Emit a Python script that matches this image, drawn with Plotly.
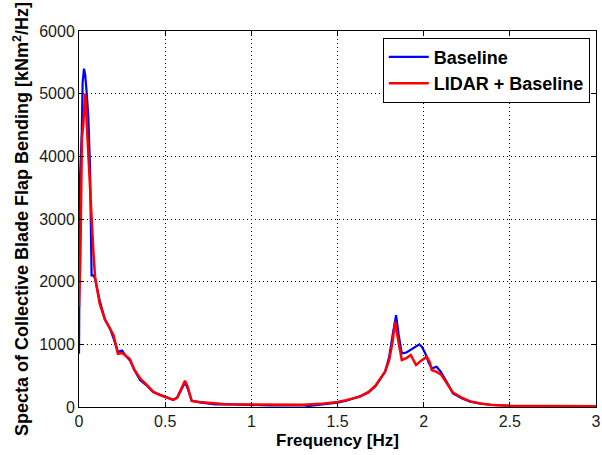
import plotly.graph_objects as go

# Baseline spectrum (frequency Hz, value kNm^2/Hz)
freq_base = [0.0, 0.006, 0.016, 0.021, 0.029, 0.036, 0.045, 0.054, 0.064, 0.068, 0.073, 0.083, 0.093,
             0.10, 0.12, 0.15, 0.18, 0.20, 0.226, 0.25, 0.27, 0.296, 0.32, 0.354, 0.39, 0.43, 0.47,
             0.50, 0.547, 0.57, 0.59, 0.615, 0.63, 0.654, 0.70, 0.74, 0.79, 0.85, 0.95, 1.0,
             1.1, 1.2, 1.3, 1.33, 1.4, 1.5, 1.55, 1.6, 1.63, 1.68, 1.72, 1.776, 1.80, 1.82, 1.84,
             1.855, 1.873, 1.90, 1.93, 1.95, 1.975, 1.99, 2.01, 2.03, 2.047, 2.075, 2.10, 2.13,
             2.17, 2.22, 2.27, 2.33, 2.40, 2.5, 2.7, 3.0]
val_base = [850, 3670, 4370, 5170, 5400, 5300, 5000, 4630, 3830, 2450, 2100, 2100, 2050,
            1950, 1700, 1400, 1250, 1100, 880, 900, 820, 740, 600, 430, 350, 240, 200,
            160, 115, 150, 250, 390, 300, 100, 75, 60, 40, 45, 35, 30,
            25, 25, 28, 15, 40, 70, 100, 140, 170, 230, 330, 560, 800, 1150, 1467,
            1150, 856, 870, 920, 950, 1000, 960, 850, 700, 617, 643, 560, 420,
            218, 140, 85, 55, 32, 20, 12, 10]

# LIDAR + Baseline spectrum
freq_lidar = [0.0, 0.008, 0.017, 0.025, 0.035, 0.04, 0.048, 0.056, 0.064, 0.073, 0.083, 0.093,
              0.10, 0.12, 0.15, 0.18, 0.20, 0.226, 0.25, 0.27, 0.296, 0.32, 0.354, 0.39, 0.43,
              0.47, 0.50, 0.547, 0.57, 0.59, 0.615, 0.63, 0.654, 0.70, 0.74, 0.79, 0.85, 0.95,
              1.0, 1.1, 1.2, 1.3, 1.4, 1.5, 1.55, 1.6, 1.63, 1.68, 1.72, 1.776, 1.80, 1.82,
              1.834, 1.85, 1.873, 1.90, 1.925, 1.956, 1.985, 2.018, 2.035, 2.047, 2.075, 2.10,
              2.13, 2.17, 2.22, 2.27, 2.33, 2.40, 2.5, 2.7, 3.0]
val_lidar = [1600, 2400, 4300, 4500, 5000, 4850, 4365, 3900, 3570, 3035, 2500, 2080,
             1950, 1650, 1400, 1250, 1150, 850, 860, 820, 760, 600, 458, 360, 245,
             190, 160, 112, 150, 260, 420, 330, 96, 80, 70, 50, 45, 40,
             40, 35, 30, 35, 50, 80, 110, 150, 165, 240, 340, 563, 750, 1050,
             1360, 1100, 750, 780, 830, 670, 740, 800, 720, 590, 560, 520,
             400, 230, 150, 90, 55, 30, 20, 12, 10]

x_ticks = [0, 0.5, 1, 1.5, 2, 2.5, 3]
x_tick_labels = ["0", "0.5", "1", "1.5", "2", "2.5", "3"]
y_ticks = [0, 1000, 2000, 3000, 4000, 5000, 6000]
y_tick_labels = ["0", "1000", "2000", "3000", "4000", "5000", "6000"]

FONT = "Liberation Sans, Arial, sans-serif"

fig = go.Figure()
fig.add_trace(go.Scatter(x=freq_base, y=val_base, mode="lines", name="<b>Baseline</b>",
                         line=dict(color="#0000ff", width=2.2)))
fig.add_trace(go.Scatter(x=freq_lidar, y=val_lidar, mode="lines", name="<b>LIDAR + Baseline</b>",
                         line=dict(color="#ff0000", width=2.5)))

axis_common = dict(showline=True, linecolor="black", linewidth=1, mirror="ticks",
                   ticks="inside", ticklen=5, tickcolor="black", automargin=False,
                   showgrid=True, gridcolor="black", griddash="1px,3px", gridwidth=1,
                   zeroline=False,
                   tickfont=dict(family=FONT, size=16, color="#1a1a1a"))

fig.update_layout(
    width=602, height=455,
    paper_bgcolor="white", plot_bgcolor="white",
    margin=dict(l=79, r=6, t=31, b=48),
    font=dict(family=FONT, color="black"),
    xaxis=dict(range=[0, 3], tickvals=x_ticks, ticktext=x_tick_labels,
               title=dict(text="<b>Frequency [Hz]</b>", font=dict(size=17), standoff=4),
               **axis_common),
    yaxis=dict(range=[0, 6000], tickvals=y_ticks, ticktext=y_tick_labels,
               title=dict(text="<b>Specta of Collective Blade Flap Bending [kNm<sup>2</sup>/Hz]</b>",
                          font=dict(size=18), standoff=5),
               **axis_common),
    legend=dict(x=0.988, y=0.982, xanchor="right", yanchor="top",
                bgcolor="white", bordercolor="black", borderwidth=1,
                font=dict(size=18, color="black", family=FONT),
                itemwidth=40, tracegroupgap=0),
    showlegend=True,
)

fig.write_html("out.html", config={"displayModeBar": False},
               post_script="document.body.style.margin='0px';document.body.style.overflow='hidden';")
